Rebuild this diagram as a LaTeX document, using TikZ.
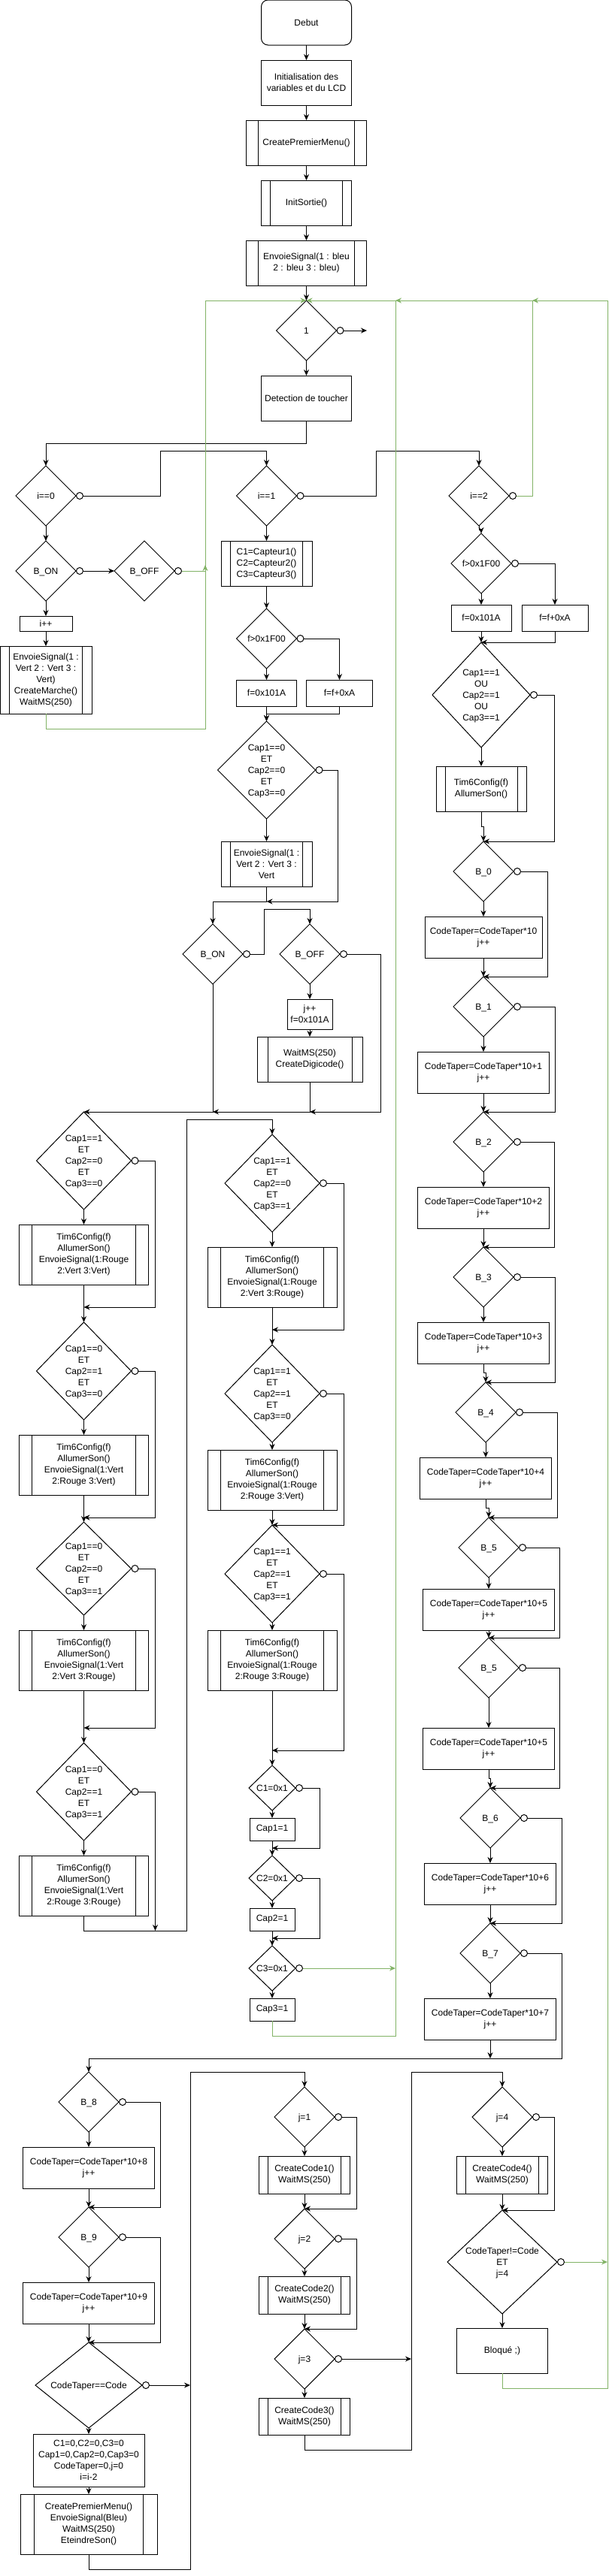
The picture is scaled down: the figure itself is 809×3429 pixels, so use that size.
\documentclass[tikz,border=0pt]{standalone}
\usepackage{fontspec}
\setmainfont{Liberation Sans}
\usetikzlibrary{arrows.meta}
\usetikzlibrary{calc}
\usetikzlibrary{positioning}
\usetikzlibrary{shapes.geometric}
\definecolor{grn}{HTML}{82B366}
\newcommand{\dtxt}[1]{\smash{\raisebox{-4pt}{\makebox[0pt]{\begin{tabular}{@{}c@{}}#1\end{tabular}}}}}
\newcommand{\timtxt}[1]{Tim6Config(f)\\AllumerSon()\\EnvoieSignal(#1)}

\begin{document}
\begin{tikzpicture}[x=1pt, y=-1pt, line width=1pt, node distance=20pt,
    every node/.style={font=\fontsize{12}{15}\selectfont, inner sep=0pt, outer sep=0pt, align=center},
    sz/.style 2 args={minimum width=#1, minimum height=#2},
    box/.style={draw, rectangle},
    proc/.style={box, path picture={
        \draw ($(path picture bounding box.north west)!.1!(path picture bounding box.north east)$) -- ($(path picture bounding box.south west)!.1!(path picture bounding box.south east)$)
              ($(path picture bounding box.north west)!.9!(path picture bounding box.north east)$) -- ($(path picture bounding box.south west)!.9!(path picture bounding box.south east)$);}},
    dec/.style={draw, diamond},
    arr/.style={-{Stealth[length=8pt, width=7pt]}},
    neg/.style={{Circle[length=10pt, color=black, fill=white]}-{Stealth[length=8pt, width=7pt]}},
    ret/.style={draw=grn}]
    \useasboundingbox (0,0) rectangle (809,3429);

    % main column
    \node[box, sz={120}{60}, rounded corners=9pt] (debut) at (407.5,30) {Debut};
    \node[box, sz={120}{60}, below=of debut] (init) {Initialisation des\\variables et du LCD};
    \node[proc, sz={160}{60}, below=of init] (cpm) {CreatePremierMenu()};
    \node[proc, sz={120}{60}, below=of cpm] (sortie) {InitSortie()};
    \node[proc, sz={160}{60}, below=of sortie] (bleu) {EnvoieSignal(1 : bleu\\2 : bleu 3 : bleu)};
    \node[dec, sz={80}{80}, below=of bleu] (main) {\dtxt{1}};
    \node[box, sz={120}{60}, below=of main] (touch) {Detection de toucher};

    % i==0
    \node[dec, sz={80}{80}] (i0) at (61,660) {\dtxt{i==0}};
    \node[dec, sz={80}{80}, below=of i0] (bon1) {\dtxt{B\_ON}};
    \node[dec, sz={80}{80}] (boff1) at (192,760) {\dtxt{B\_OFF}};
    \node[box, sz={70}{20}, below=of bon1] (ipp) {i++};
    \node[proc, sz={122}{90}, below=of ipp] (sig1) {EnvoieSignal(1 :\\Vert 2 : Vert 3 :\\Vert)\\CreateMarche()\\WaitMS(250)};

    % i==1
    \node[dec, sz={80}{80}] (i1) at (354.5,660) {\dtxt{i==1}};
    \node[proc, sz={121}{60}, below=of i1] (capt) {C1=Capteur1()\\C2=Capteur2()\\C3=Capteur3()};
    \node[dec, sz={80}{80}, below=30pt of capt] (f1) {\dtxt{f>0x1F00}};
    \node[box, sz={80}{35}, below=15pt of f1] (fa1) {f=0x101A};
    \node[box, sz={88}{35}] (fb1) at (451.5,922.5) {f=f+0xA};
    \node[dec, sz={130}{130}, below=of fa1] (cz) {\dtxt{Cap1==0\\ET\\Cap2==0\\ET\\Cap3==0}};
    \node[proc, sz={121}{60}, below=30pt of cz] (vert) {EnvoieSignal(1 :\\Vert 2 : Vert 3 :\\Vert};
    \node[dec, sz={80}{80}] (bon2) at (283,1270) {\dtxt{B\_ON}};
    \node[dec, sz={80}{80}] (boff2) at (412,1270) {\dtxt{B\_OFF}};
    \node[box, sz={60}{40}, below=of boff2] (jf) {j++\\f=0x101A};
    \node[proc, sz={140}{60}, below=10pt of jf] (digi) {WaitMS(250)\\CreateDigicode()};

    % capteurs, colonne 1
    \node[dec, sz={126}{130}] (ca1) at (111.5,1545) {\dtxt{Cap1==1\\ET\\Cap2==0\\ET\\Cap3==0}};
    \node[proc, sz={172}{80}, below=of ca1] (ta1) {\timtxt{1:Rouge\\2:Vert 3:Vert}};
    \node[dec, sz={126}{130}, below=50pt of ta1] (ca2) {\dtxt{Cap1==0\\ET\\Cap2==1\\ET\\Cap3==0}};
    \node[proc, sz={172}{80}, below=of ca2] (ta2) {\timtxt{1:Vert\\2:Rouge 3:Vert}};
    \node[dec, sz={126}{124}, below=36pt of ta2] (ca3) {\dtxt{Cap1==0\\ET\\Cap2==0\\ET\\Cap3==1}};
    \node[proc, sz={172}{80}, below=of ca3] (ta3) {\timtxt{1:Vert\\2:Vert 3:Rouge}};
    \node[dec, sz={126}{130}, below=70pt of ta3] (ca4) {\dtxt{Cap1==0\\ET\\Cap2==1\\ET\\Cap3==1}};
    \node[proc, sz={172}{80}, below=of ca4] (ta4) {\timtxt{1:Vert\\2:Rouge 3:Rouge}};

    % capteurs, colonne 2
    \node[dec, sz={126}{130}] (cb1) at (362,1575) {\dtxt{Cap1==1\\ET\\Cap2==0\\ET\\Cap3==1}};
    \node[proc, sz={172}{80}, below=of cb1] (tb1) {\timtxt{1:Rouge\\2:Vert 3:Rouge}};
    \node[dec, sz={126}{130}, below=50pt of tb1] (cb2) {\dtxt{Cap1==1\\ET\\Cap2==1\\ET\\Cap3==0}};
    \node[proc, sz={172}{80}, below=10pt of cb2] (tb2) {\timtxt{1:Rouge\\2:Rouge 3:Vert}};
    \node[dec, sz={126}{130}, below=of tb2] (cb3) {\dtxt{Cap1==1\\ET\\Cap2==1\\ET\\Cap3==1}};
    \node[proc, sz={172}{80}, below=10pt of cb3] (tb3) {\timtxt{1:Rouge\\2:Rouge 3:Rouge}};
    \node[dec, sz={62}{60}, below=100pt of tb3] (c1) {\dtxt{C1=0x1}};
    \node[box, sz={60}{30}, below=10pt of c1] (cp1) {Cap1=1};
    \node[dec, sz={62}{60}, below=of cp1] (c2) {\dtxt{C2=0x1}};
    \node[box, sz={60}{30}, below=10pt of c2] (cp2) {Cap2=1};
    \node[dec, sz={62}{60}, below=of cp2] (c3) {\dtxt{C3=0x1}};
    \node[box, sz={60}{30}, below=10pt of c3] (cp3) {Cap3=1};

    % i==2
    \node[dec, sz={80}{80}] (i2) at (637,660) {\dtxt{i==2}};
    \node[dec, sz={80}{80}] (f2) at (640,750) {\dtxt{f>0x1F00}};
    \node[box, sz={80}{35}, below=15pt of f2] (fa2) {f=0x101A};
    \node[box, sz={88}{35}] (fb2) at (738,822.5) {f=f+0xA};
    \node[dec, sz={130}{140}, below=15pt of fa2] (co) {\dtxt{Cap1==1\\OU\\Cap2==1\\OU\\Cap3==1}};
    \node[proc, sz={120}{60}, below=25pt of co] (tim) {Tim6Config(f)\\AllumerSon()};
    \node[dec, sz={80}{80}] (b0) at (643,1160) {\dtxt{B\_0}};
    \node[box, sz={156}{55}, below=of b0] (ct0) {CodeTaper=CodeTaper*10\\j++};
    \node[dec, sz={80}{80}, below=25pt of ct0] (b1) {\dtxt{B\_1}};
    \node[box, sz={175}{55}, below=of b1] (ct1) {CodeTaper=CodeTaper*10+1\\j++};
    \node[dec, sz={80}{80}, below=25pt of ct1] (b2) {\dtxt{B\_2}};
    \node[box, sz={175}{55}, below=of b2] (ct2) {CodeTaper=CodeTaper*10+2\\j++};
    \node[dec, sz={80}{80}, below=25pt of ct2] (b3) {\dtxt{B\_3}};
    \node[box, sz={175}{55}, below=of b3] (ct3) {CodeTaper=CodeTaper*10+3\\j++};
    \node[dec, sz={80}{80}] (b4) at (646,1880) {\dtxt{B\_4}};
    \node[box, sz={175}{55}, below=of b4] (ct4) {CodeTaper=CodeTaper*10+4\\j++};
    \node[dec, sz={80}{80}] (b5) at (650,2060) {\dtxt{B\_5}};
    \node[box, sz={175}{55}, below=15pt of b5] (ct5) {CodeTaper=CodeTaper*10+5\\j++};
    \node[dec, sz={80}{80}, below=10pt of ct5] (b5b) {\dtxt{B\_5}};
    \node[box, sz={175}{55}, below=40pt of b5b] (ct5b) {CodeTaper=CodeTaper*10+5\\j++};
    \node[dec, sz={80}{80}] (b6) at (652,2420) {\dtxt{B\_6}};
    \node[box, sz={175}{55}, below=of b6] (ct6) {CodeTaper=CodeTaper*10+6\\j++};
    \node[dec, sz={80}{80}, below=25pt of ct6] (b7) {\dtxt{B\_7}};
    \node[box, sz={175}{55}, below=of b7] (ct7) {CodeTaper=CodeTaper*10+7\\j++};

    % B_8, B_9 et code
    \node[dec, sz={80}{80}] (b8) at (118,2798) {\dtxt{B\_8}};
    \node[box, sz={175}{55}, below=of b8] (ct8) {CodeTaper=CodeTaper*10+8\\j++};
    \node[dec, sz={80}{80}, below=25pt of ct8] (b9) {\dtxt{B\_9}};
    \node[box, sz={175}{55}, below=of b9] (ct9) {CodeTaper=CodeTaper*10+9\\j++};
    \node[dec, sz={142}{114}, below=25pt of ct9] (ceq) {\dtxt{CodeTaper==Code}};
    \node[box, sz={148}{70}, below=8pt of ceq] (rst) {C1=0,C2=0,C3=0\\Cap1=0,Cap2=0,Cap3=0\\CodeTaper=0,j=0\\i=i-2};
    \node[proc, sz={182}{80}, below=10pt of rst] (fin) {CreatePremierMenu()\\EnvoieSignal(Bleu)\\WaitMS(250)\\EteindreSon()};

    \node[dec, sz={80}{80}] (j1) at (405,2818) {\dtxt{j=1}};
    \node[proc, sz={121}{50}, below=12pt of j1] (cc1) {CreateCode1()\\WaitMS(250)};
    \node[dec, sz={80}{80}, below=of cc1] (j2) {\dtxt{j=2}};
    \node[proc, sz={121}{50}, below=10pt of j2] (cc2) {CreateCode2()\\WaitMS(250)};
    \node[dec, sz={80}{80}, below=of cc2] (j3) {\dtxt{j=3}};
    \node[proc, sz={121}{49}, below=12pt of j3] (cc3) {CreateCode3()\\WaitMS(250)};

    \node[dec, sz={80}{80}] (j4) at (668,2818) {\dtxt{j=4}};
    \node[proc, sz={121}{50}, below=12pt of j4] (cc4) {CreateCode4()\\WaitMS(250)};
    \node[dec, sz={146}{138}, below=22pt of cc4] (cne) {\dtxt{CodeTaper!=Code\\ET\\j=4}};
    \node[box, sz={121}{60}, below=19pt of cne] (blq) {Bloqué ;)};

    % junctions
    \coordinate (out) at (488,440);
    \coordinate (g0) at (273,400);
    \coordinate (g1) at (526,400);
    \coordinate (g2) at (708,400);
    \coordinate (g3) at (808,400);
    \coordinate (gj) at (273,752);
    \coordinate (jA) at (354.5,1200);
    \coordinate (jB) at (412,1480);
    \coordinate (jC) at (283,1480);
    \coordinate (kA) at (111.5,1740);
    \coordinate (kB) at (111.5,2020);
    \coordinate (kC) at (111.5,2300);
    \coordinate (kD) at (206.5,2570);
    \coordinate (mA) at (248,1490);
    \coordinate (nA) at (362,1770);
    \coordinate (nB) at (362,2330);
    \coordinate (nC) at (362,2460);
    \coordinate (nD) at (362,2580);
    \coordinate (qA) at (652,2740);
    \coordinate (vA) at (253,2758);
    \coordinate (vB) at (547,2758);

    \draw[arr] (debut.south) -- (init.north);
    \draw[arr] (init.south) -- (cpm.north);
    \draw[arr] (cpm.south) -- (sortie.north);
    \draw[arr] (sortie.south) -- (bleu.north);
    \draw[arr] (bleu.south) -- (main.north);
    \draw[arr] (main.south) -- (touch.north);
    \draw[neg] (main.east) -- (out);
    \draw[arr] (touch.south) -- ++(0,30) -| (i0.north);

    \draw[arr] (i0.south) -- (bon1.north);
    \draw[neg] (i0.east) -- ++(112,0) |- ([yshift=20pt]i1.north) -- (i1.north);
    \draw[neg] (bon1.east) -- (boff1.west);
    \draw[arr] (bon1.south) -- (ipp.north);
    \draw[arr] (ipp.south) -- (sig1.north);
    \draw[ret, neg] (boff1.east) -| (gj);
    \draw[ret, arr] (sig1.south) -- ++(0,20) -| (g0) -- (main.north);

    \draw[arr] (i1.south) -- (capt.north);
    \draw[neg] (i1.east) -- ++(106,0) |- ([yshift=20pt]i2.north) -- (i2.north);
    \draw[arr] (capt.south) -- (f1.north);
    \draw[arr] (f1.south) -- (fa1.north);
    \draw[neg] (f1.east) -| (fb1.north);
    \draw[arr] (fa1.south) -- (cz.north);
    \draw[arr] (fb1.south) -- ++(0,10) -| (cz.north);
    \draw[arr] (cz.south) -- (vert.north);
    \draw[neg] (cz.east) -- ++(30,0) |- (jA);
    \draw[arr] (vert.south) -- (jA) -| (bon2.north);
    \draw[neg] (bon2.east) -- ++(28,0) |- ([yshift=20pt]boff2.north) -- (boff2.north);
    \draw[arr] (boff2.south) -- (jf.north);
    \draw[arr] (jf.south) -- (digi.north);
    \draw[neg] (boff2.east) -- ++(54,0) |- (jB);
    \draw[arr] (digi.south) |- (jC);
    \draw[arr] (bon2.south) |- (ca1.north);

    \draw[arr] (ca1.south) -- (ta1.north);
    \draw[neg] (ca1.east) -- ++(32,0) |- (kA);
    \draw[arr] (ta1.south) -- (ca2.north);
    \draw[arr] (ca2.south) -- (ta2.north);
    \draw[neg] (ca2.east) -- ++(32,0) |- (kB);
    \draw[arr] (ta2.south) -- (ca3.north);
    \draw[arr] (ca3.south) -- (ta3.north);
    \draw[neg] (ca3.east) -- ++(32,0) |- (kC);
    \draw[arr] (ta3.south) -- (ca4.north);
    \draw[arr] (ca4.south) -- (ta4.north);
    \draw[neg] (ca4.east) -- ++(32,0) -- (kD);
    \draw[arr] (ta4.south) -- ++(0,20) -| (mA) -| (cb1.north);

    \draw[arr] (cb1.south) -- (tb1.north);
    \draw[neg] (cb1.east) -- ++(32,0) |- (nA);
    \draw[arr] (tb1.south) -- (cb2.north);
    \draw[arr] (cb2.south) -- (tb2.north);
    \draw[neg] (cb2.east) -- ++(32,0) |- (cb3.north);
    \draw[arr] (tb2.south) -- (cb3.north);
    \draw[arr] (cb3.south) -- (tb3.north);
    \draw[neg] (cb3.east) -- ++(32,0) |- (nB);
    \draw[arr] (tb3.south) -- (c1.north);
    \draw[arr] (c1.south) -- (cp1.north);
    \draw[neg] (c1.east) -- ++(32,0) |- (nC);
    \draw[arr] (cp1.south) -- (c2.north);
    \draw[arr] (c2.south) -- (cp2.north);
    \draw[neg] (c2.east) -- ++(32,0) |- (nD);
    \draw[arr] (cp2.south) -- (c3.north);
    \draw[arr] (c3.south) -- (cp3.north);
    \draw[ret, neg] (c3.east) -- (c3.east -| g1);
    \draw[ret, arr] (cp3.south) -- ++(0,20) -| (g1) -- (main.north);

    \draw[arr] (i2.south) -- ++(0,5) -| (f2.north);
    \draw[ret, neg] (i2.east) -| (g2) -- (g1);
    \draw[arr] (f2.south) -- (fa2.north);
    \draw[neg] (f2.east) -| (fb2.north);
    \draw[arr] (fa2.south) -- (co.north);
    \draw[arr] (fb2.south) |- (co.north);
    \draw[arr] (co.south) -- (tim.north);
    \draw[neg] (co.east) -- ++(32,0) |- (b0.north);
    \draw[arr] (tim.south) -- ++(0,20) -| (b0.north);
    \draw[arr] (b0.south) -- (ct0.north);
    \draw[neg] (b0.east) -- ++(45,0) |- (b1.north);
    \draw[arr] (ct0.south) -- (b1.north);
    \draw[arr] (b1.south) -- (ct1.north);
    \draw[neg] (b1.east) -- ++(55,0) |- (b2.north);
    \draw[arr] (ct1.south) -- (b2.north);
    \draw[arr] (b2.south) -- (ct2.north);
    \draw[neg] (b2.east) -- ++(54,0) |- (b3.north);
    \draw[arr] (ct2.south) -- (b3.north);
    \draw[arr] (b3.south) -- (ct3.north);
    \draw[neg] (b3.east) -- ++(55,0) |- (b4.north);
    \draw[arr] (ct3.south) -- ++(0,12) -| (b4.north);
    \draw[arr] (b4.south) -- (ct4.north);
    \draw[neg] (b4.east) -- ++(55,0) |- (b5.north);
    \draw[arr] (ct4.south) -- ++(0,12) -| (b5.north);
    \draw[arr] (b5.south) -- (ct5.north);
    \draw[neg] (b5.east) -- ++(54,0) |- (b5b.north);
    \draw[arr] (ct5.south) -- (b5b.north);
    \draw[arr] (b5b.south) -- (ct5b.north);
    \draw[neg] (b5b.east) -- ++(54,0) |- (b6.north);
    \draw[arr] (ct5b.south) -- ++(0,12) -| (b6.north);
    \draw[arr] (b6.south) -- (ct6.north);
    \draw[neg] (b6.east) -- ++(55,0) |- (b7.north);
    \draw[arr] (ct6.south) -- (b7.north);
    \draw[arr] (b7.south) -- (ct7.north);
    \draw[neg] (b7.east) -- ++(55,0) |- ([yshift=18pt]b8.north) -- (b8.north);
    \draw[arr] (ct7.south) -- (qA);

    \draw[arr] (b8.south) -- (ct8.north);
    \draw[neg] (b8.east) -- ++(55,0) |- (b9.north);
    \draw[arr] (ct8.south) -- (b9.north);
    \draw[arr] (b9.south) -- (ct9.north);
    \draw[neg] (b9.east) -- ++(55,0) |- (ceq.north);
    \draw[arr] (ct9.south) -- (ceq.north);
    \draw[arr] (ceq.south) -- (rst.north);
    \draw[neg] (ceq.east) -- (ceq.east -| vA);
    \draw[arr] (rst.south) -- (fin.north);
    \draw[arr] (fin.south) -- ++(0,20) -| (vA) -| (j1.north);

    \draw[arr] (j1.south) -- (cc1.north);
    \draw[neg] (j1.east) -- ++(29,0) |- (j2.north);
    \draw[arr] (cc1.south) -- (j2.north);
    \draw[arr] (j2.south) -- (cc2.north);
    \draw[neg] (j2.east) -- ++(29,0) |- (j3.north);
    \draw[arr] (cc2.south) -- (j3.north);
    \draw[arr] (j3.south) -- (cc3.north);
    \draw[neg] (j3.east) -- (j3.east -| vB);
    \draw[arr] (cc3.south) -- ++(0,20) -| (vB) -| (j4.north);

    \draw[arr] (j4.south) -- (cc4.north);
    \draw[neg] (j4.east) -- ++(29,0) |- (cne.north);
    \draw[arr] (cc4.south) -- (cne.north);
    \draw[arr] (cne.south) -- (blq.north);
    \draw[ret, neg] (cne.east) -- (cne.east -| g3);
    \draw[ret, arr] (blq.south) -- ++(0,20) -| (g3) -- (g2);
\end{tikzpicture}
\end{document}
